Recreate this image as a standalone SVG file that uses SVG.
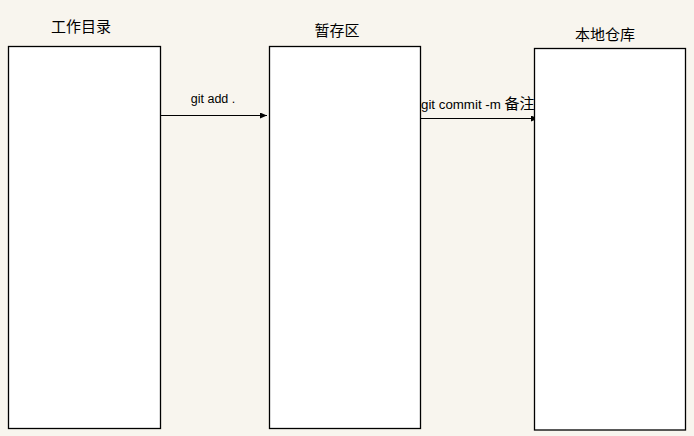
<svg xmlns="http://www.w3.org/2000/svg" width="694" height="436" viewBox="0 0 694 436">
<defs>
<marker id="arr" markerWidth="8" markerHeight="6" refX="7" refY="3" orient="auto" markerUnits="userSpaceOnUse">
<path d="M0,0 L7,3 L0,6 z" fill="#000"/>
</marker>
<style>
.box{fill:#fff;stroke:#000;stroke-width:1.3}
.title{font-family:"Liberation Sans","Noto Sans CJK SC",sans-serif;font-size:15px;fill:#000;text-anchor:middle}
.lbl{font-family:"Liberation Sans","Noto Sans CJK SC",sans-serif;font-size:12.5px;fill:#000}
.conn{stroke:#000;stroke-width:1;fill:none;marker-end:url(#arr)}
</style>
</defs>
<rect width="694" height="436" fill="#f8f5ee"/>
<g id="connectors">
<line class="conn" x1="161" y1="115.5" x2="267" y2="115.5"/>
<text class="lbl" x="213" y="103" text-anchor="middle">git add .</text>
<line class="conn" x1="421" y1="118.5" x2="538" y2="118.5"/>
<text class="lbl" x="421" y="109" style="font-size:13.3px">git commit -m <tspan style="font-size:15px">备注</tspan></text>
</g>
<g id="workdir">
<rect class="box" x="8.5" y="46.5" width="152" height="382"/>
<text class="title" x="81" y="32">工作目录</text>
</g>
<g id="staging">
<rect class="box" x="269.5" y="46.5" width="151" height="382"/>
<text class="title" x="337" y="36">暂存区</text>
</g>
<g id="repo">
<rect class="box" x="534.5" y="48.5" width="151" height="381.5"/>
<text class="title" x="605" y="40">本地仓库</text>
</g>
</svg>
